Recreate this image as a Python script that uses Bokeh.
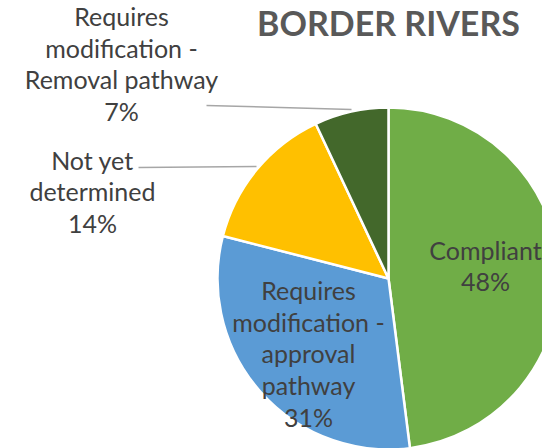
import math
from bokeh.plotting import figure
from bokeh.models import Range1d, ColumnDataSource
from bokeh.core.properties import value
from bokeh.embed import file_html
from bokeh.resources import INLINE

# ---- data ----
categories = ["Compliant", "Requires modification - approval pathway",
              "Not yet determined", "Requires modification - Removal pathway"]
shares = [48, 31, 14, 7]
label_texts = ["Compliant\n48%",
               "Requires\nmodification -\napproval\npathway\n31%",
               "Not yet\ndetermined\n14%",
               "Requires\nmodification -\nRemoval pathway\n7%"]
colors = ["#70AD47", "#5B9BD5", "#FFC000", "#43682B"]
title_text = "BORDER RIVERS"

# ---- layout (picture pixels) ----
W, H = 542, 448
def sx(x):
    return x
def sy(y):
    return H - y

cx, cy, r = 388, 278, 171

p = figure(width=W, height=H, output_backend="svg", toolbar_location=None,
           x_range=Range1d(0, W), y_range=Range1d(0, H),
           min_border=0, outline_line_color=None, background_fill_color="white")
p.axis.visible = False
p.grid.visible = False

total = float(sum(shares))
starts, ends = [], []
acc = 0.0
for s in shares:
    starts.append(math.pi / 2 - 2 * math.pi * acc / total)
    acc += s
    ends.append(math.pi / 2 - 2 * math.pi * acc / total)

src = ColumnDataSource(dict(cat=categories, start=starts, end=ends, color=colors))
p.wedge(x=sx(cx), y=sy(cy), radius=r, start_angle="start", end_angle="end",
        direction="clock", fill_color="color", line_color="white", line_width=2.5,
        source=src)

# leader lines
p.line(x=[sx(206), sx(351)], y=[sy(105), sy(109)], line_color="#A6A6A6", line_width=1.5)
p.line(x=[sx(138), sx(256)], y=[sy(167), sy(166)], line_color="#A6A6A6", line_width=1.5)

# labels
lab_x = [485, 308, 92, 121]
lab_y = [265, 353, 191, 63]
lsrc = ColumnDataSource(dict(x=[sx(v) for v in lab_x], y=[sy(v) for v in lab_y], t=label_texts))
p.text(x="x", y="y", text="t", source=lsrc, text_font=value("Lato"),
       text_font_size="25px", text_color="#404040", text_align="center",
       text_baseline="middle", text_line_height=1.06)

p.text(x=[sx(388)], y=[sy(22)], text=[title_text], text_font=value("Lato"),
       text_font_size="34px", text_font_style="bold", text_color="#595959",
       text_align="center", text_baseline="middle")

open("out.html", "w").write(file_html(p, INLINE))
